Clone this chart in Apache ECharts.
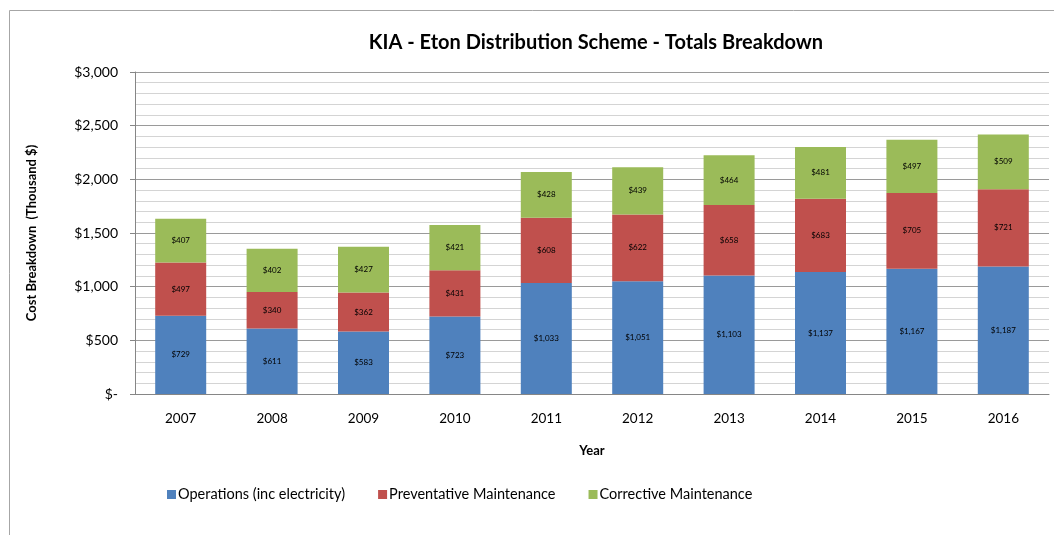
<!doctype html>
<html>

<head>
  <meta charset="utf-8">
  <script src="https://cdn.jsdelivr.net/npm/echarts@6/dist/echarts.min.js"></script>
</head>

<body>
  <style>
    html,
    body {
      width: 100%;
      height: 100%;
      margin: 0;
      background-color: #ffffff;
    }

    #main {
      width: 1054px;
      height: 535px;
    }
  </style>
  <div id="main"></div>
  <script>
    var years = ['2007', '2008', '2009', '2010', '2011', '2012', '2013', '2014', '2015', '2016'];
    var operations = [729, 611, 583, 723, 1033, 1051, 1103, 1137, 1167, 1187];
    var preventative = [497, 340, 362, 431, 608, 622, 658, 683, 705, 721];
    var corrective = [407, 402, 427, 421, 428, 439, 464, 481, 497, 509];
    var seriesNames = ['Operations (inc electricity)', 'Preventative Maintenance', 'Corrective Maintenance'];
    var colors = ['#4F81BD', '#C0504D', '#9BBB59'];
    var font = 'Lato, "Open Sans", sans-serif';

    function money(v) {
      if (v === 0) return '$-';
      return '$' + v.toLocaleString('en-US');
    }

    function barSeries(name, data, color) {
      return {
        type: 'bar',
        name: name,
        stack: 'total',
        barWidth: 51,
        data: data,
        itemStyle: { color: color },
        label: {
          show: true,
          position: 'inside',
          color: '#000',
          fontSize: 8,
          fontFamily: font,
          formatter: function (p) { return money(p.value); }
        }
      };
    }

    var chart = echarts.init(document.getElementById('main'));
    var option = {
      animation: false,
      color: colors,
      textStyle: { fontFamily: font },
      title: {
        text: 'KIA - Eton Distribution Scheme - Totals Breakdown',
        left: 591,
        textAlign: 'center',
        top: 28,
        textStyle: { fontSize: 20, fontWeight: 'bold', color: '#000', fontFamily: font }
      },
      graphic: [{
        type: 'rect',
        shape: { x: 9.5, y: 10.5, width: 1200, height: 700 },
        style: { fill: 'none', stroke: '#a6a6a6', lineWidth: 1 },
        silent: true
      }],
      legend: {
        top: 482,
        left: 162,
        itemWidth: 9,
        itemHeight: 9,
        itemGap: 33,
        icon: 'rect',
        textStyle: { fontSize: 14.5, color: '#000', fontFamily: font, padding: [0, 0, 0, -3] },
        data: seriesNames
      },
      grid: { left: 135, top: 72, right: 5, bottom: 141 },
      xAxis: {
        type: 'category',
        data: years,
        name: 'Year',
        nameLocation: 'middle',
        nameGap: 50,
        nameTextStyle: { fontSize: 13, fontWeight: 'bold', color: '#000' },
        axisLine: { lineStyle: { color: '#868686' } },
        axisTick: { show: false },
        axisLabel: { fontSize: 13.5, color: '#000', margin: 18 }
      },
      yAxis: {
        type: 'value',
        min: 0,
        max: 3000,
        interval: 500,
        name: 'Cost Breakdown  (Thousand $)',
        nameLocation: 'middle',
        nameGap: 97,
        nameTextStyle: { fontSize: 13, fontWeight: 'bold', color: '#000' },
        axisLine: { show: true, lineStyle: { color: '#868686' } },
        axisTick: { show: true, length: 5, lineStyle: { color: '#868686' } },
        axisLabel: { fontSize: 14, color: '#000', margin: 17, formatter: money },
        splitLine: { lineStyle: { color: '#9a9a9a' } },
        minorTick: { show: false, splitNumber: 5 },
        minorSplitLine: { show: true, lineStyle: { color: '#d4d4d4' } }
      },
      series: [
        barSeries(seriesNames[0], operations, colors[0]),
        barSeries(seriesNames[1], preventative, colors[1]),
        barSeries(seriesNames[2], corrective, colors[2])
      ]
    };
    chart.setOption(option);
  </script>
</body>

</html>
